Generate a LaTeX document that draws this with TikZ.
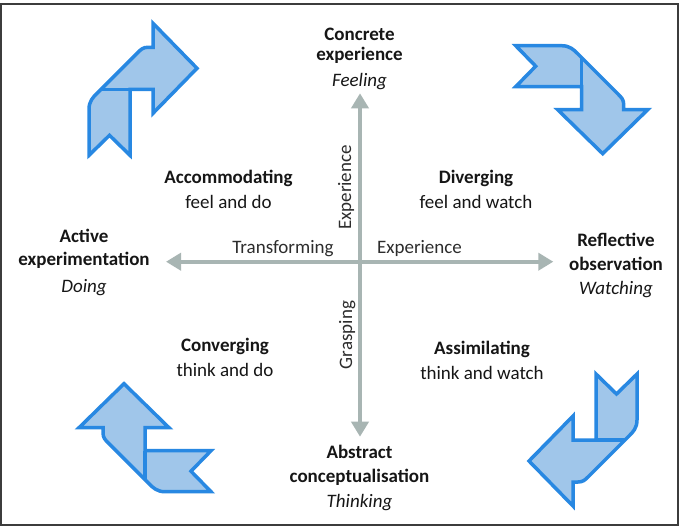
\documentclass[tikz,border=0pt]{standalone}
\usepackage{fontspec}
\setmainfont{Carlito}
\usetikzlibrary{arrows.meta}
\definecolor{axisgray}{RGB}{168,181,179}
\definecolor{arrowblue}{RGB}{40,136,226}
\definecolor{arrowfill}{RGB}{160,198,234}
\definecolor{framegray}{RGB}{60,60,60}
\definecolor{txt}{RGB}{22,22,22}
\definecolor{labtxt}{RGB}{45,45,45}
\tikzset{
  kolbarrow/.pic={
    \draw[arrowshape] (-41,66) -- (-20.5,46) -- (0,66) -- (0,0) -- (23,0) -- (23,24)
      -- (67,-21) -- (23,-66) -- (23,-42) -- (18,-42)
      .. controls (13,-42) and (11,-40) .. (7,-36) -- (-33,4)
      .. controls (-37,8) and (-41,12) .. (-41,20) -- cycle;
    \draw[arrowshape,fill=none] (-29,0) -- (0,0);
  }
}
\begin{document}
\begin{tikzpicture}[x=1pt,y=-1pt,
  every node/.style={inner sep=0pt, text=txt, font=\fontsize{19}{23}\selectfont},
  kolbhead/.style={anchor=base, font=\fontsize{19}{23}\selectfont\bfseries},
  kolbsub/.style={anchor=base},
  kolbmode/.style={anchor=base, font=\fontsize{19}{23}\selectfont\itshape},
  axislab/.style={anchor=base, text=labtxt},
  kolbaxis/.style={draw=axisgray, line width=4pt, -{Triangle[width=17pt,length=15pt]}},
  arrowshape/.style={draw=arrowblue, fill=arrowfill, line width=3.5pt, line join=miter}
]
\fill[white] (0,0) rectangle (685,528);
\useasboundingbox (0,0) rectangle (685,528);
\draw[framegray, line width=2pt] (1.2,4) rectangle (677.7,525.3);

% cycle arrows
\pic at (130,89.3) {kolbarrow};
\pic[rotate=-90] at (581.7,86.7) {kolbarrow};
\pic[rotate=180] at (596,440) {kolbarrow};
\pic[rotate=90] at (145,450.7) {kolbarrow};

% axes
\coordinate (O) at (360,261.7);
\coordinate (T) at (360,93.3);
\coordinate (B) at (360,436.7);
\coordinate (L) at (166,261.7);
\coordinate (R) at (553.3,261.7);
\draw[kolbaxis] (O) -- (T);
\draw[kolbaxis] (O) -- (B);
\draw[kolbaxis] (O) -- (L);
\draw[kolbaxis] (O) -- (R);

% axis labels
\node[axislab] (transf) at (283,253.3) {Transforming};
\node[axislab] (expH) at (419.5,253.3) {Experience};
\node[axislab, rotate=90] (expV) at (351,187.5) {Experience};
\node[axislab, rotate=90] (grasp) at (352,335) {Grasping};

% poles
\node[kolbhead] (ce1) at (359.5,40) {Concrete};
\node[kolbhead] (ce2) at (359.5,60.7) {experience};
\node[kolbmode] (ce3) at (359.5,86) {Feeling};

\node[kolbhead] (ac1) at (359.5,458.3) {Abstract};
\node[kolbhead] (ac2) at (359.5,482.7) {conceptualisation};
\node[kolbmode] (ac3) at (359.5,507.3) {Thinking};

\node[kolbhead] (ae1) at (84,242.7) {Active};
\node[kolbhead] (ae2) at (84,265) {experimentation};
\node[kolbmode] (ae3) at (84,292) {Doing};

\node[kolbhead] (ro1) at (616,246.7) {Reflective};
\node[kolbhead] (ro2) at (616,270.7) {observation};
\node[kolbmode] (ro3) at (616,294) {Watching};

% quadrants
\node[kolbhead] (acc1) at (228.5,183.3) {Accommodating};
\node[kolbsub] (acc2) at (228.5,208.3) {feel and do};

\node[kolbhead] (div1) at (476,183.3) {Diverging};
\node[kolbsub] (div2) at (476,208.3) {feel and watch};

\node[kolbhead] (con1) at (225,351.3) {Converging};
\node[kolbsub] (con2) at (225,376.3) {think and do};

\node[kolbhead] (ass1) at (482,354.3) {Assimilating};
\node[kolbsub] (ass2) at (482,379.3) {think and watch};
\end{tikzpicture}
\end{document}
